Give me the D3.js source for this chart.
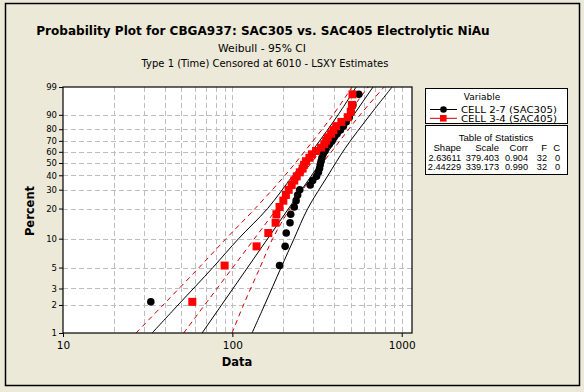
<!DOCTYPE html>
<html>
<head>
<meta charset="utf-8">
<script src="https://cdn.jsdelivr.net/npm/d3@7"></script>
<style>
  body { margin: 0; background: #ECE9D8; }
  svg { display: block; font-family: "DejaVu Sans", sans-serif; }
</style>
</head>
<body>
<svg id="chart" width="584" height="392"></svg>
<script>
// median rank plotting positions (%) for 32 failures
const plotPercent = [2.16, 5.25, 8.33, 11.42, 14.51, 17.59, 20.68, 23.77, 26.85, 29.94, 33.02, 36.11,
    39.20, 42.28, 45.37, 48.46, 51.54, 54.63, 57.72, 60.80, 63.89, 66.98, 70.06, 73.15,
    76.23, 79.32, 82.41, 85.49, 88.58, 91.67, 94.75, 97.84];

// failure data
const cell27 = [33, 190, 205, 208, 219, 221, 232, 238, 243, 250, 288, 298, 314, 322, 327, 330,
    334, 338, 343, 352, 357, 373, 388, 398, 415, 435, 452, 470, 490, 502, 515, 558];
const cell34 = [58, 90, 139, 163, 180, 182, 190, 200, 207, 215, 224, 232, 240, 250, 260, 265,
    272, 285, 295, 312, 334, 349, 358, 366, 383, 395, 410, 440, 480, 500, 508, 512];

// table of statistics
const seriesNames = ["CELL 2-7 (SAC305)", "CELL 3-4 (SAC405)"];
const shapes = [2.63611, 2.44229];
const scales = [379.403, 339.173];
const corrs = ["0.904", "0.990"];
const failed = [32, 32];
const censored = [0, 0];

// 95% confidence bands (percent -> data)
const ciPercents = [1, 2, 5, 10, 20, 40, 63.2, 90, 99];
const cell27Lower = [33.6, 47.8, 76.7, 108.8, 161.4, 228.3, 303.8, 421.1, 537.9];
const cell27Upper = [130.7, 155.0, 194.0, 231.4, 278.8, 367.5, 463.2, 650.8, 877.7];
const cell34Lower = [27.0, 39.0, 63.6, 91.8, 136.2, 204.8, 276.2, 393.4, 509.3];
const cell34Upper = [99.6, 116.3, 145.6, 173.0, 219.2, 299.7, 398.8, 568.0, 787.0];

const percentTicks = [1, 2, 3, 5, 10, 20, 30, 40, 50, 60, 70, 80, 90, 99];
const dataTicks = [10, 100, 1000];

const L = 63, R = 412, T = 87, B = 333;
const bg = "#ECE9D8";

const svg = d3.select("#chart");

var x = d3.scaleLog().domain([10, 1150]).range([L, R]);
var weib = function(p) { return Math.log(-Math.log(1 - p / 100)); };
var yS = d3.scaleLinear().domain([weib(1), weib(99)]).range([B, T]);
var y = function(p) { return yS(weib(p)); };

svg.append("rect").attr("width", 584).attr("height", 392).attr("fill", bg);
svg.append("rect")
    .attr("x", 5.5).attr("y", 3.5).attr("width", 574).attr("height", 382)
    .attr("fill", "none").attr("stroke", "#000").attr("stroke-width", 1.5);

// titles
function fitWidth(sel, w) {
    var len = sel.node().getComputedTextLength();
    var fs = parseFloat(sel.attr("font-size"));
    sel.attr("font-size", fs * w / len);
}
var t1 = svg.append("text").attr("x", 263).attr("y", 35).attr("text-anchor", "middle")
    .attr("font-size", 14).attr("font-weight", "bold")
    .text("Probability Plot for CBGA937: SAC305 vs. SAC405 Electrolytic NiAu");
fitWidth(t1, 454);
var t2 = svg.append("text").attr("x", 262).attr("y", 52).attr("text-anchor", "middle")
    .attr("font-size", 11).text("Weibull - 95% CI");
fitWidth(t2, 88);
var t3 = svg.append("text").attr("x", 265).attr("y", 67).attr("text-anchor", "middle")
    .attr("font-size", 11).text("Type 1 (Time) Censored at 6010 - LSXY Estimates");
fitWidth(t3, 247);

// plot area
svg.append("rect").attr("x", L).attr("y", T).attr("width", R - L).attr("height", B - T)
    .attr("fill", "#fff");

svg.append("clipPath").attr("id", "plotclip")
    .append("rect").attr("x", L).attr("y", T).attr("width", R - L).attr("height", B - T);

var grid = svg.append("g").attr("stroke", "#bdbdbd").attr("stroke-dasharray", "5,3");
grid.selectAll(".hg")
    .data(percentTicks.filter(function(p) { return p > 1 && p < 99; }))
    .enter().append("line")
    .attr("x1", L).attr("x2", R)
    .attr("y1", function(d) { return Math.round(y(d)) + 0.5; })
    .attr("y2", function(d) { return Math.round(y(d)) + 0.5; });
grid.selectAll(".vg")
    .data(x.ticks().filter(function(d) { return d > 10; }))
    .enter().append("line")
    .attr("y1", T).attr("y2", B)
    .attr("x1", function(d) { return Math.round(x(d)) + 0.5; })
    .attr("x2", function(d) { return Math.round(x(d)) + 0.5; });

// fitted lines and confidence bands
var lines = svg.append("g").attr("clip-path", "url(#plotclip)").attr("fill", "none");
var band = d3.line()
    .x(function(d) { return x(d[1]); })
    .y(function(d) { return y(d[0]); })
    .curve(d3.curveCatmullRom);

function fitLine(shape, scale) {
    return [1, 99].map(function(p) {
        return [p, scale * Math.pow(-Math.log(1 - p / 100), 1 / shape)];
    });
}
function zipBand(vals) {
    return ciPercents.map(function(p, i) { return [p, vals[i]]; });
}

[zipBand(cell34Lower), zipBand(cell34Upper), fitLine(shapes[1], scales[1])].forEach(function(pts) {
    lines.append("path").attr("d", band(pts))
        .attr("stroke", "#c80000").attr("stroke-width", 1).attr("stroke-dasharray", "5,4");
});
[zipBand(cell27Lower), zipBand(cell27Upper), fitLine(shapes[0], scales[0])].forEach(function(pts) {
    lines.append("path").attr("d", band(pts))
        .attr("stroke", "#000").attr("stroke-width", 1);
});

// points
svg.append("g").selectAll("circle")
    .data(cell27)
    .enter().append("circle")
    .attr("cx", function(d) { return x(d); })
    .attr("cy", function(d, i) { return y(plotPercent[i]); })
    .attr("r", 3.8)
    .attr("fill", "#000");

svg.append("g").selectAll("rect")
    .data(cell34)
    .enter().append("rect")
    .attr("x", function(d) { return x(d) - 4; })
    .attr("y", function(d, i) { return y(plotPercent[i]) - 4; })
    .attr("width", 8).attr("height", 8)
    .attr("fill", "#ff0000");

// frame
svg.append("rect").attr("x", L).attr("y", T).attr("width", R - L).attr("height", B - T)
    .attr("fill", "none").attr("stroke", "#000").attr("stroke-width", 1.2);

// axes
var yAxis = svg.append("g").attr("transform", "translate(" + L + ",0)")
    .call(d3.axisLeft(yS)
        .tickValues(percentTicks.map(weib))
        .tickFormat(function(d, i) { return percentTicks[i]; })
        .tickSize(4).tickSizeOuter(0));
yAxis.select(".domain").remove();
yAxis.selectAll("text").attr("font-size", 8.5).attr("font-family", "DejaVu Sans").attr("fill", "#000").attr("x", -6);

var xAxis = svg.append("g").attr("transform", "translate(0," + B + ")")
    .call(d3.axisBottom(x)
        .tickValues(dataTicks)
        .tickFormat(d3.format("d"))
        .tickSize(4).tickSizeOuter(0));
xAxis.select(".domain").remove();
xAxis.selectAll("text").attr("font-size", 10.5).attr("font-family", "DejaVu Sans").attr("fill", "#000").attr("dy", "0.9em");

svg.append("text").attr("x", 237).attr("y", 366).attr("text-anchor", "middle")
    .attr("font-size", 11.5).attr("font-weight", "bold").text("Data");
svg.append("text").attr("transform", "translate(34,211) rotate(-90)").attr("text-anchor", "middle")
    .attr("font-size", 11.5).attr("font-weight", "bold").text("Percent");

// legend
var leg = svg.append("g");
leg.append("rect").attr("x", 425.5).attr("y", 88.5).attr("width", 142).attr("height", 35)
    .attr("fill", "#fff").attr("stroke", "#000");
leg.append("text").attr("x", 482).attr("y", 100).attr("text-anchor", "middle")
    .attr("font-size", 9).text("Variable");
[0, 1].forEach(function(i) {
    var ly = 109.5 + i * 8.8;
    var col = i == 0 ? "#000" : "#ff0000";
    leg.append("line").attr("x1", 430).attr("x2", 457).attr("y1", ly).attr("y2", ly)
        .attr("stroke", i == 0 ? "#000" : "#c80000");
    if (i == 0) {
        leg.append("circle").attr("cx", 443.5).attr("cy", ly).attr("r", 3.3).attr("fill", col);
    } else {
        leg.append("rect").attr("x", 440).attr("y", ly - 3.3).attr("width", 6.6).attr("height", 6.6).attr("fill", col);
    }
    leg.append("text").attr("x", 461).attr("y", ly + 3.2).attr("font-size", 8.6)
        .attr("textLength", 96).attr("lengthAdjust", "spacingAndGlyphs")
        .text(seriesNames[i]);
});

// table of statistics
var tab = svg.append("g").attr("font-family", "Liberation Sans, Arial, sans-serif");
tab.append("rect").attr("x", 425.5).attr("y", 125.5).attr("width", 142).attr("height", 49)
    .attr("fill", "#fff").attr("stroke", "#000");
tab.append("text").attr("x", 496).attr("y", 140.5).attr("text-anchor", "middle")
    .attr("font-size", 9.6).text("Table of Statistics");
var colRight = [461, 499, 528, 547, 560];
var header = ["Shape", "Scale", "Corr", "F", "C"];
header.forEach(function(h, j) {
    tab.append("text").attr("x", colRight[j]).attr("y", 150.5).attr("text-anchor", "end")
        .attr("font-size", 9.5).text(h);
});
[0, 1].forEach(function(i) {
    var row = [shapes[i].toFixed(5), scales[i].toFixed(3), corrs[i], failed[i], censored[i]];
    row.forEach(function(v, j) {
        tab.append("text").attr("x", colRight[j]).attr("y", 160.5 + i * 9.2).attr("text-anchor", "end")
            .attr("font-size", 9.2).text(v);
    });
});
</script>
</body>
</html>
